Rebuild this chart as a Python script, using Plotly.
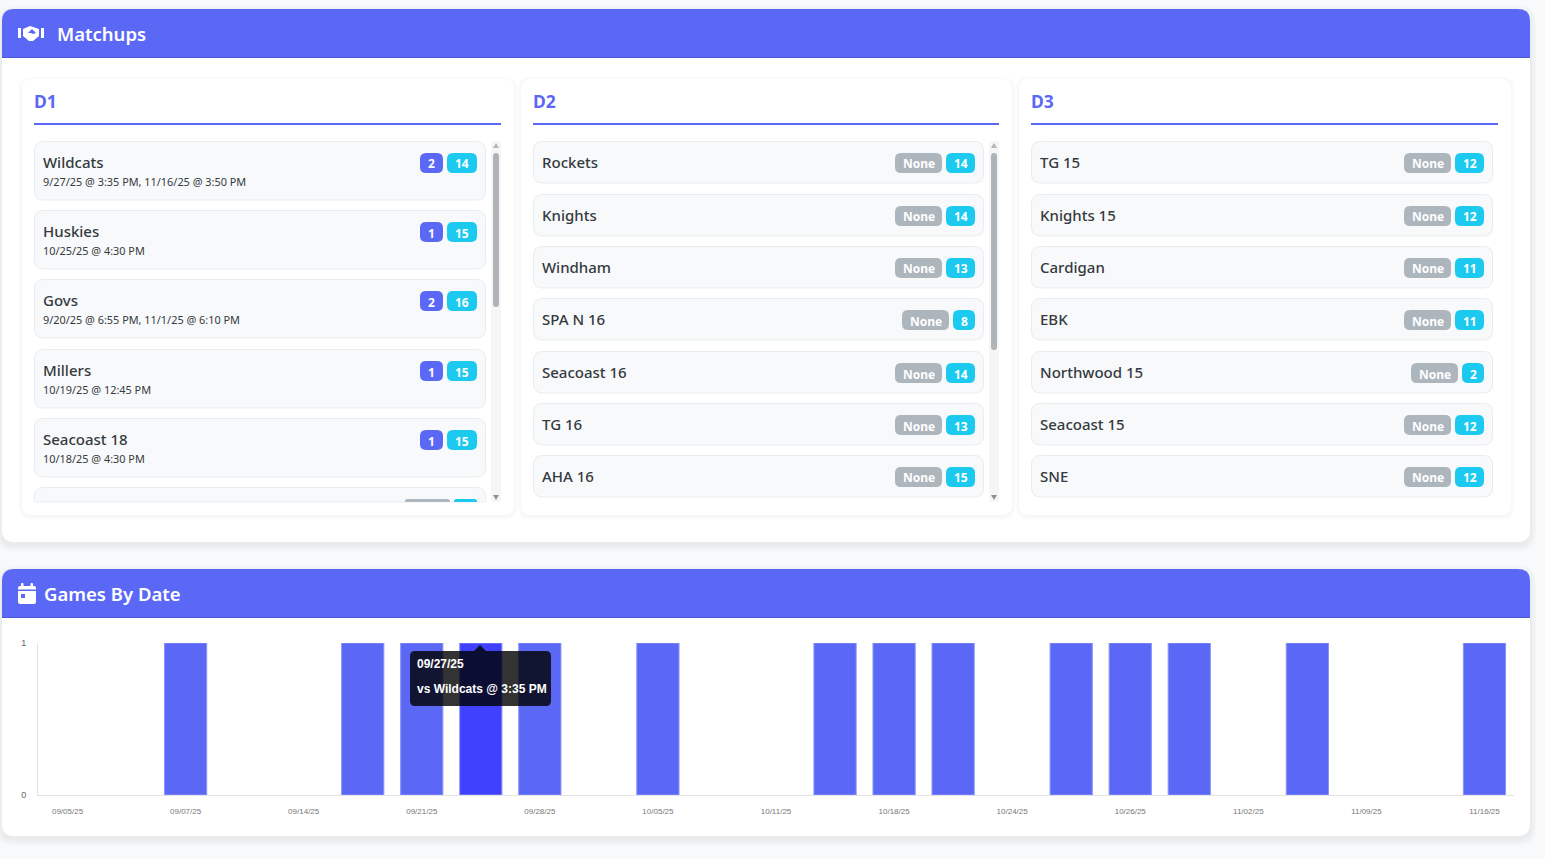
import plotly.graph_objects as go

W, H = 1545, 859

# matchups data
d1_teams = ['Wildcats', 'Huskies', 'Govs', 'Millers', 'Seacoast 18']
d1_times = ['9/27/25 @ 3:35 PM, 11/16/25 @ 3:50 PM', '10/25/25 @ 4:30 PM',
            '9/20/25 @ 6:55 PM, 11/1/25 @ 6:10 PM', '10/19/25 @ 12:45 PM', '10/18/25 @ 4:30 PM']
d1_games = ['2', '1', '2', '1', '1']
d1_rank = ['14', '15', '16', '15', '15']

d2_teams = ['Rockets', 'Knights', 'Windham', 'SPA N 16', 'Seacoast 16', 'TG 16', 'AHA 16']
d2_rank = ['14', '14', '13', '8', '14', '13', '15']

d3_teams = ['TG 15', 'Knights 15', 'Cardigan', 'EBK', 'Northwood 15', 'Seacoast 15', 'SNE']
d3_rank = ['12', '12', '11', '11', '2', '12', '12']

# games by date
game_dates = ['09/05/25', '09/06/25', '09/07/25', '09/13/25', '09/14/25', '09/20/25', '09/21/25',
              '09/27/25', '09/28/25', '10/04/25', '10/05/25', '10/10/25', '10/11/25', '10/17/25',
              '10/18/25', '10/19/25', '10/24/25', '10/25/25', '10/26/25', '11/01/25', '11/02/25',
              '11/08/25', '11/09/25', '11/15/25', '11/16/25']
game_counts = [0, 0, 1, 0, 0, 1, 1, 1, 1, 0, 1, 0, 0, 1, 1, 1, 0, 1, 1, 1, 0, 1, 0, 0, 1]
hovered_date = '09/27/25'

BLUE = '#5b68f6'
BLUE_DARK = '#4f5bd6'
CYAN = '#1ccaf0'
GREY = '#adb5bd'
FONT = 'Noto Sans'

shapes = []
annotations = []


def px(x):
    return x / W


def py(y):
    return 1 - y / H


def round_path(x0, y0, x1, y1, r, bottom=True):
    # rounded box as svg path, bottom=False leaves the lower corners square
    rb = r if bottom else 0
    pts = [
        ('M', x0 + r, y0), ('L', x1 - r, y0), ('Q', x1, y0, x1, y0 + r),
        ('L', x1, y1 - rb), ('Q', x1, y1, x1 - rb, y1),
        ('L', x0 + rb, y1), ('Q', x0, y1, x0, y1 - rb),
        ('L', x0, y0 + r), ('Q', x0, y0, x0 + r, y0),
    ]
    out = ''
    for p in pts:
        nums = p[1:]
        out += p[0] + ' '.join(f'{px(nums[i]):.5f},{py(nums[i + 1]):.5f}' for i in range(0, len(nums), 2)) + ' '
    return out + 'Z'


def box(x0, y0, x1, y1, r, fill, line=None, bottom=True, layer='below', width=1):
    shapes.append(dict(type='path', path=round_path(x0, y0, x1, y1, r, bottom), xref='paper', yref='paper',
                       fillcolor=fill, layer=layer,
                       line=dict(color=line, width=width) if line else dict(width=0)))


def poly(points, fill, layer='below'):
    path = 'M' + ' L'.join(f'{px(a):.5f},{py(b):.5f}' for a, b in points) + ' Z'
    shapes.append(dict(type='path', path=path, xref='paper', yref='paper', fillcolor=fill,
                       layer=layer, line=dict(width=0)))


def text(x, y, s, size, color, weight=400, family=FONT, anchor='left'):
    annotations.append(dict(x=px(x), y=py(y), text=s, xref='paper', yref='paper', showarrow=False,
                            xanchor=anchor, yanchor='middle', borderpad=0,
                            font=dict(family=family, size=size, color=color, weight=weight)))


def shadow(x0, y0, x1, y1, r, offset, steps, alpha):
    for i in range(steps, 0, -1):
        box(x0 - i, y0 + offset - i, x1 + i, y1 + offset + i, r + i, f'rgba(0,0,0,{alpha})')


def panel(y0, y1, title, title_x):
    shadow(2, y0, 1530, y1, 12, 3, 7, 0.006)
    box(2, y0, 1530, y1, 12, 'white')
    box(2, y0, 1530, y0 + 49, 12, BLUE, bottom=False)
    shapes.append(dict(type='line', x0=px(2), x1=px(1530), y0=py(y0 + 48.5), y1=py(y0 + 48.5), xref='paper',
                       yref='paper', layer='below', line=dict(color=BLUE_DARK, width=1)))
    text(title_x, y0 + 24, title, 18.5, 'white', 600)


def badge(x1, y, s, fill, wide=29, narrow=22):
    w = 47 if s == 'None' else (wide if len(s) > 1 else narrow)
    box(x1 - w, y, x1, y + 20, 6, fill)
    text(x1 - w / 2, y + 11, s, 12, 'white', 700, anchor='center')
    return x1 - w - 4


def card(x0, x1, title, rule_x1):
    shadow(x0, 79, x1, 515, 10, 1, 4, 0.006)
    box(x0, 79, x1, 515, 10, 'white')
    text(x0 + 10.5, 101, title, 17.5, BLUE, 700)
    shapes.append(dict(type='line', x0=px(x0 + 12), x1=px(rule_x1), y0=py(124), y1=py(124), xref='paper',
                       yref='paper', layer='below', line=dict(color=BLUE, width=2)))


def scrollbar(x, thumb_y0, thumb_y1):
    box(x, 141, x + 10, 502, 0.01, '#f6f6f6')
    box(x + 2, thumb_y0, x + 8, thumb_y1, 3, '#afb4b8')
    poly([(x + 2, 148), (x + 8, 148), (x + 5, 143)], '#b5b5b5')
    poly([(x + 2, 495), (x + 8, 495), (x + 5, 500)], '#909090')


panel(9, 542, 'Matchups', 55.5)
panel(569, 836, 'Games By Date', 42.5)

# handshake icon
poly([(18, 28), (21, 28), (21, 38), (18, 38)], 'white')
poly([(41, 28), (44, 28), (44, 38), (41, 38)], 'white')
poly([(23, 29), (30, 26), (33, 27), (39, 29), (39, 36), (33, 41), (29, 41), (23, 36)], 'white')
poly([(28, 33), (32, 29), (36, 33), (33, 34), (31, 33)], BLUE)
# calendar icon
box(18, 586, 36, 604, 2, 'white')
box(21, 583, 23.5, 588, 1, 'white')
box(30.5, 583, 33, 588, 1, 'white')
box(18, 589.5, 36, 591, 0.01, BLUE)
box(21, 594, 25, 598, 0.5, BLUE)

card(22, 514, 'D1', 501)
card(521, 1012, 'D2', 999)
card(1019, 1511, 'D3', 1498)

# D1 rows have the play dates under the name
d1_tops = [141, 210, 279, 349, 418]
for top, team, when, games, rank in zip(d1_tops, d1_teams, d1_times, d1_games, d1_rank):
    box(34.5, top + 0.5, 485.5, top + 59, 9, '#f8f9fa', '#e9ecef')
    text(41.5, top + 21, team, 15, '#343a40', 500)
    text(41.5, top + 40.5, when, 10.9, '#343a40')
    x = badge(477, top + 12, rank, CYAN, wide=30)
    badge(x, top + 12, games, BLUE, narrow=23)
# the sixth row is cut off by the scroll area
box(34.5, 487.5, 485.5, 502, 9, '#f8f9fa', '#e9ecef', bottom=False)
box(405, 499, 450, 502, 2.5, GREY, bottom=False)
box(454, 499, 477, 502, 2.5, CYAN, bottom=False)
scrollbar(491, 153, 307)

row_tops = [141, 194, 246, 298, 351, 403, 455]
for top, team, rank in zip(row_tops, d2_teams, d2_rank):
    box(533.5, top + 0.5, 983.5, top + 42, 9, '#f8f9fa', '#e9ecef')
    text(540.5, top + 21, team, 15, '#343a40', 500)
    x = badge(975, top + 12, rank, CYAN)
    badge(x, top + 12, 'None', GREY)
scrollbar(989, 153, 350)

for top, team, rank in zip(row_tops, d3_teams, d3_rank):
    box(1031.5, top + 0.5, 1492.5, top + 42, 9, '#f8f9fa', '#e9ecef')
    text(1038.5, top + 21, team, 15, '#343a40', 500)
    x = badge(1484, top + 12, rank, CYAN)
    badge(x, top + 12, 'None', GREY)

# tooltip sits over the bars
box(410, 651, 551, 706, 5, 'rgba(0,0,0,0.8)', layer='above')
poly([(474, 651), (486, 651), (480, 645)], 'rgba(0,0,0,0.8)', layer='above')
text(415.5, 664, '09/27/25', 12, 'white', 700, 'Liberation Sans')
text(415.5, 689, 'vs Wildcats @ 3:35 PM', 12, 'white', 700, 'Liberation Sans')

bar_colors = ['#3f41ff' if d == hovered_date else BLUE for d in game_dates]
# no border on empty days
bar_lines = [1 if c else 0 for c in game_counts]

fig = go.Figure(go.Bar(
    x=game_dates,
    y=game_counts,
    marker=dict(color=bar_colors, line=dict(color='#8a93f9', width=bar_lines)),
    hoverinfo='skip',
))

fig.update_layout(
    width=W,
    height=H,
    margin=dict(l=0, r=0, t=0, b=0),
    paper_bgcolor='#f8f9fa',
    plot_bgcolor='rgba(0,0,0,0)',
    bargap=0.285,
    showlegend=False,
    shapes=shapes,
    annotations=annotations,
    xaxis=dict(
        domain=[px(38), px(1514)],
        type='category',
        automargin=False,
        dtick=2,
        tick0=0,
        ticks='outside',
        ticklen=8,
        tickcolor='rgba(0,0,0,0)',
        tickangle=0,
        showgrid=False,
        showline=True,
        linecolor='#e3e3e3',
        tickfont=dict(family='Liberation Sans', size=8, color='#777777'),
    ),
    yaxis=dict(
        domain=[py(795), py(643)],
        range=[0, 1],
        automargin=False,
        tickvals=[0, 1],
        ticks='outside',
        ticklen=9,
        tickcolor='rgba(0,0,0,0)',
        showgrid=False,
        zeroline=False,
        showline=True,
        linecolor='#e3e3e3',
        tickfont=dict(family='Liberation Sans', size=9, color='#666666'),
    ),
)

fig.write_html('out.html', config=dict(displayModeBar=False),
               post_script="document.body.style.margin='0';document.body.style.overflow='hidden';")
